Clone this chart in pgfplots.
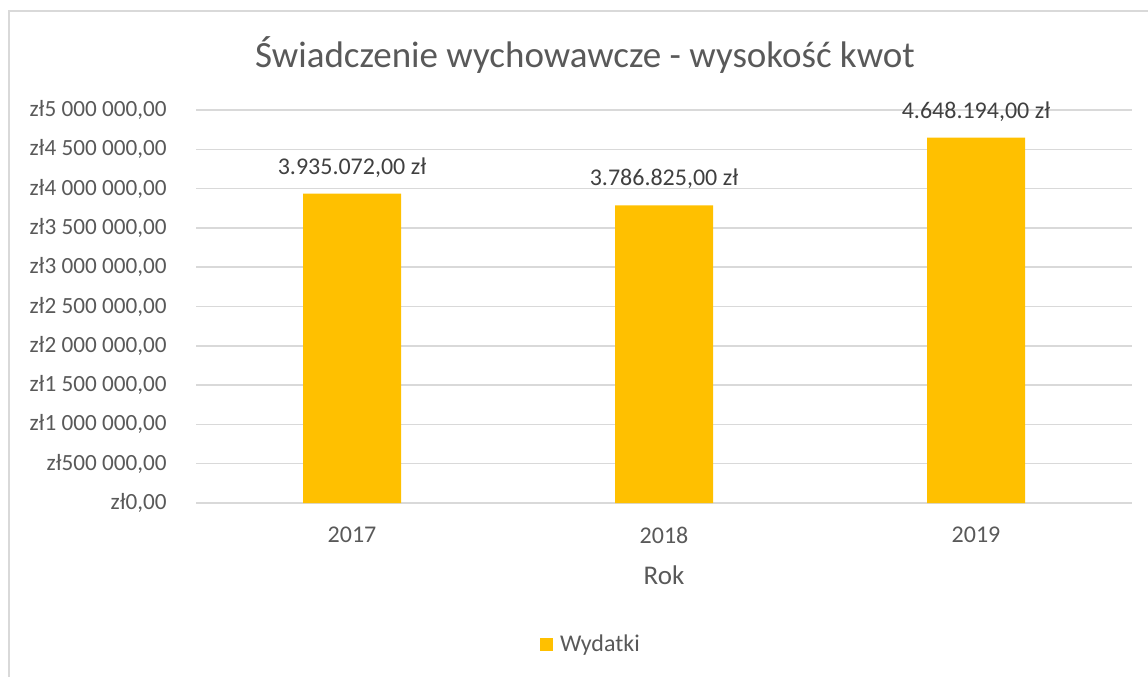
\documentclass[border=0pt]{standalone}
\usepackage{pgfplots}
\pgfplotsset{compat=1.18}
\usepackage{fontspec}
\setmainfont{Carlito}
\definecolor{barc}{HTML}{FFC000}
\definecolor{gridc}{HTML}{D9D9D9}
\definecolor{txt}{HTML}{595959}
\definecolor{lbl}{HTML}{404040}
\begin{document}
\begin{tikzpicture}
\useasboundingbox (0,0) rectangle (574bp,338.5bp);
\draw[gridc, line width=1bp] (4.5bp,0) -- (4.5bp,333bp) -- (574bp,333bp);
\node[txt, font=\fontsize{18.5bp}{22bp}\selectfont] at (292.5bp,311bp) {Świadczenie wychowawcze - wysokość kwot};
\begin{axis}[
  at={(98bp,87bp)}, anchor=south west,
  scale only axis, width=468bp, height=196.5bp,
  xmin=-0.5, xmax=2.5, ymin=0, ymax=5000000,
  xtick={0,1,2}, xticklabels={2017,2018,2019},
  ytick={0,500000,1000000,1500000,2000000,2500000,3000000,3500000,4000000,4500000,5000000},
  yticklabels={{zł0,00},{zł500 000,00},{zł1 000 000,00},{zł1 500 000,00},{zł2 000 000,00},{zł2 500 000,00},{zł3 000 000,00},{zł3 500 000,00},{zł4 000 000,00},{zł4 500 000,00},{zł5 000 000,00}},
  scaled y ticks=false,
  major tick length=0pt,
  axis x line*=bottom, axis y line*=left,
  x axis line style={draw=gridc, line width=0.9bp, -},
  y axis line style={draw=none},
  ymajorgrids, grid style={draw=gridc, line width=0.75bp},
  yticklabel style={font=\fontsize{11.6bp}{14bp}\selectfont, text=txt, inner sep=0pt, xshift=-14.5bp},
  xticklabel style={font=\fontsize{12bp}{14bp}\selectfont, text=txt, inner sep=0pt, yshift=-12bp},
  xlabel={Rok},
  xlabel style={font=\fontsize{13.5bp}{16bp}\selectfont, text=txt, at={(axis description cs:0.5,-0.183)}, anchor=center},
  ybar, bar width=49bp,
  nodes near coords,
  point meta=explicit symbolic,
  every node near coord/.append style={font=\fontsize{12bp}{14bp}\selectfont, text=lbl, inner sep=0pt, yshift=8bp, anchor=south},
  legend style={at={(axis description cs:0.423,-0.361)}, anchor=center, draw=none, fill=none, font=\fontsize{12bp}{14bp}\selectfont, text=txt, /tikz/every odd column/.append style={column sep=1.5bp}},
  legend image code/.code={\fill[#1] (0bp,-3.25bp) rectangle (6.5bp,3.25bp);},
  clip=false,
]
\addplot[fill=barc, draw=none] table[meta=label, col sep=semicolon] {
x;y;label
0;3935072;3.935.072,00 zł
1;3786825;3.786.825,00 zł
2;4648194;4.648.194,00 zł
};
\addlegendentry{Wydatki}
\end{axis}
\end{tikzpicture}
\end{document}
